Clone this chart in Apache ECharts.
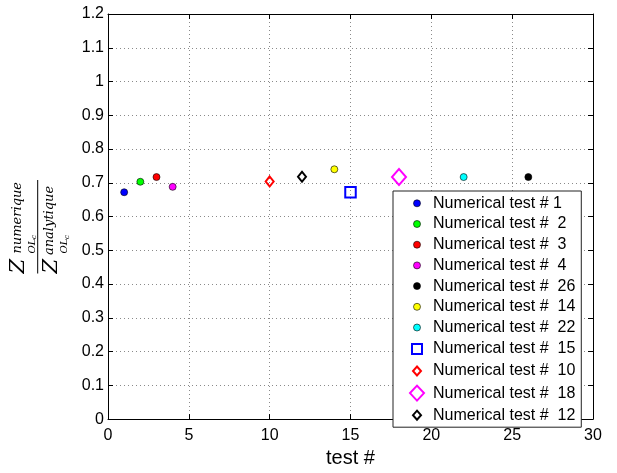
<!DOCTYPE html>
<html>
<head>
<meta charset="utf-8">
<script src="https://cdn.jsdelivr.net/npm/echarts@6/dist/echarts.min.js"></script>
<style>
html, body { margin: 0; padding: 0; background: #fff; }
#main { width: 617px; height: 473px; }
</style>
</head>
<body>
<div id="main"></div>
<script>
var myChart = echarts.init(document.getElementById('main'));

var FONT = '"Liberation Sans", Arial, Helvetica, sans-serif';
var SERIF = '"DejaVu Serif", serif';

// legend order (same order as in the figure)
var testIds = [1, 2, 3, 4, 26, 14, 22, 15, 10, 18, 12];
var ratios = [0.672, 0.703, 0.717, 0.688, 0.717, 0.740, 0.717, 0.672, 0.704, 0.717, 0.718];
var legendNames = [
	'Numerical test # 1',
	'Numerical test #  2',
	'Numerical test #  3',
	'Numerical test #  4',
	'Numerical test #  26',
	'Numerical test #  14',
	'Numerical test #  22',
	'Numerical test #  15',
	'Numerical test #  10',
	'Numerical test #  18',
	'Numerical test #  12'
];

// marker style per series
var markers = [
	{ kind: 'dot', color: '#0000ff' },
	{ kind: 'dot', color: '#00ff00' },
	{ kind: 'dot', color: '#ff0000' },
	{ kind: 'dot', color: '#ff00ff' },
	{ kind: 'dot', color: '#000000' },
	{ kind: 'dot', color: '#ffff00' },
	{ kind: 'dot', color: '#00ffff' },
	{ kind: 'square', color: '#0000ff' },
	{ kind: 'diamond', color: '#ff0000' },
	{ kind: 'bigDiamond', color: '#ff00ff' },
	{ kind: 'diamond', color: '#000000' }
];

// legend icons: 22x18 box (the two moveTo's fix the box), shape in the middle
var BOX = 'path://M0 0M22 18';
var icons = {
	dot: BOX + 'M14.5 9A3.5 3.5 0 1 1 7.5 9A3.5 3.5 0 1 1 14.5 9Z',
	square: BOX + 'M6 4h10v10h-10Z',
	diamond: BOX + 'M11 4.5L15 9L11 13.5L7 9Z',
	bigDiamond: BOX + 'M11 1.5L18 9L11 16.5L4 9Z'
};
var symbols = {
	dot: { symbol: 'circle', size: 7 },
	square: { symbol: 'rect', size: 10.5 },
	diamond: { symbol: 'diamond', size: [8, 10] },
	bigDiamond: { symbol: 'diamond', size: [14, 16] }
};

function markerStyle(m) {
	if (m.kind == 'dot') {
		return { color: m.color, borderColor: '#000', borderWidth: 0.6, opacity: 1 };
	}
	return { color: 'rgba(0,0,0,0)', borderColor: m.color, borderWidth: 2, opacity: 1 };
}

var series = [];
var legendData = [];
for (var i = 0; i < testIds.length; i++) {
	var m = markers[i];
	series.push({
		name: legendNames[i],
		type: 'scatter',
		data: [[testIds[i], ratios[i]]],
		symbol: symbols[m.kind].symbol,
		symbolSize: symbols[m.kind].size,
		itemStyle: markerStyle(m),
		z: 3
	});
	legendData.push({
		name: legendNames[i],
		icon: icons[m.kind],
		itemStyle: markerStyle(m)
	});
}

var axisLine = { show: true, onZero: false, lineStyle: { color: '#000', width: 1 } };
var axisTick = { show: true, inside: true, length: 5, lineStyle: { color: '#000' } };
var gridLine = { show: true, lineStyle: { color: '#8a8a8a', width: 1, type: [1, 3] } };

// one text piece of the y label (rotated group below)
function tex(str, x, y, size) {
	return {
		type: 'text',
		x: x,
		y: y,
		style: {
			text: str,
			font: 'italic ' + size + 'px ' + SERIF,
			fill: '#000',
			align: 'left',
			verticalAlign: 'middle',
			textAlign: 'left',
			textVerticalAlign: 'middle'
		}
	};
}

var option = {
	backgroundColor: '#fff',
	animation: false,
	grid: {
		left: 108,
		right: 24,
		top: 14,
		bottom: 45
	},
	xAxis: [{
			type: 'value',
			min: 0,
			max: 30,
			interval: 5,
			name: 'test #',
			nameLocation: 'middle',
			nameGap: 25,
			nameTextStyle: { fontSize: 20, color: '#000', fontFamily: FONT },
			axisLine: axisLine,
			axisTick: axisTick,
			axisLabel: { color: '#000', fontSize: 16, fontFamily: FONT, margin: 8 },
			splitLine: gridLine
		},
		{
			type: 'value',
			position: 'top',
			min: 0,
			max: 30,
			interval: 5,
			axisLine: axisLine,
			axisTick: axisTick,
			axisLabel: { show: false },
			splitLine: { show: false }
		}
	],
	yAxis: [{
			type: 'value',
			min: 0,
			max: 1.2,
			interval: 0.1,
			axisLine: axisLine,
			axisTick: axisTick,
			axisLabel: {
				color: '#000',
				fontSize: 16,
				fontFamily: FONT,
				margin: 4,
				formatter: function (v) { return String(+v.toFixed(1)); }
			},
			splitLine: gridLine
		},
		{
			type: 'value',
			position: 'right',
			min: 0,
			max: 1.2,
			interval: 0.1,
			axisLine: axisLine,
			axisTick: axisTick,
			axisLabel: { show: false },
			splitLine: { show: false }
		}
	],
	legend: {
		data: legendData,
		orient: 'vertical',
		left: 393,
		top: 191,
		padding: [3, 6, 2, 12],
		itemWidth: 22,
		itemHeight: 18,
		itemGap: 2.1,
		selectedMode: false,
		backgroundColor: '#fff',
		borderColor: '#222',
		borderWidth: 1,
		borderRadius: 0,
		symbolKeepAspect: true,
		textStyle: { fontSize: 16, color: '#000', fontFamily: FONT }
	},
	// y label: Z^numerique_OLc / Z^analytique_OLc, rotated
	graphic: [{
		type: 'group',
		x: 37.7,
		y: 226.5,
		rotation: Math.PI / 2,
		children: [
			{ type: 'line', shape: { x1: -47, y1: 0, x2: 46.5, y2: 0 }, style: { stroke: '#000', lineWidth: 1 } },
			tex('Z', -47, -19, 21),
			tex('numerique', -27, -20.3, 13),
			tex('OL', -27, -5.7, 10),
			tex('c', -12.5, -3.6, 7),
			tex('Z', -47, 14.3, 21),
			tex('analytique', -28.5, 11.7, 13),
			tex('OL', -27, 27, 10),
			tex('c', -12.5, 29.4, 7)
		]
	}],
	series: series
};

myChart.setOption(option);
</script>
</body>
</html>
